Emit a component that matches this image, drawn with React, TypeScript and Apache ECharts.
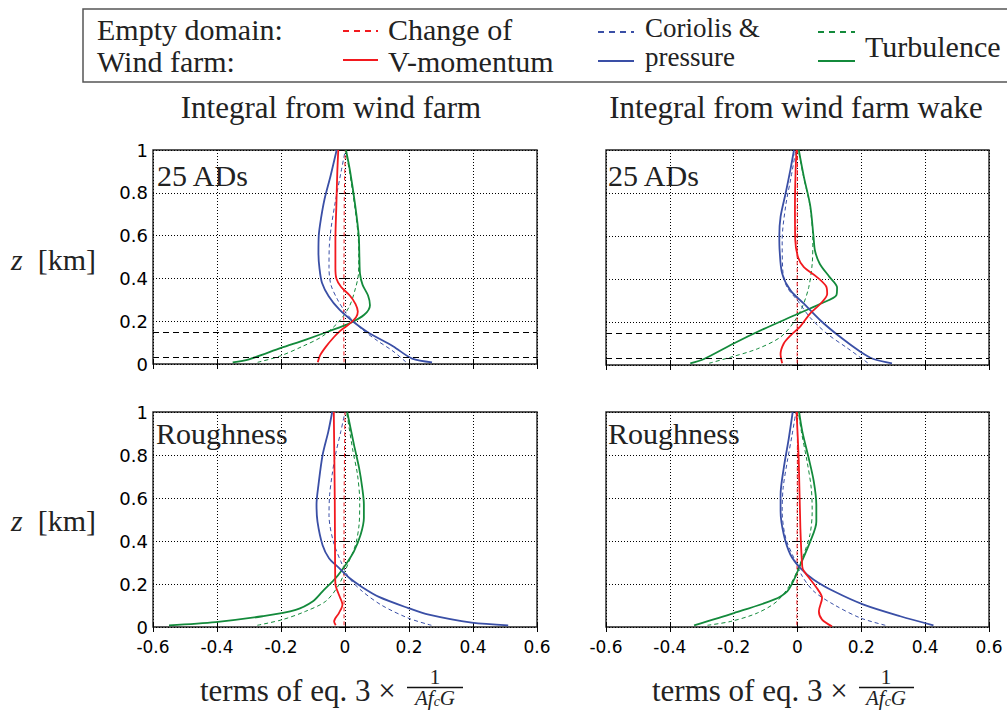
import React, { useEffect, useRef } from "react";
import * as echarts from "echarts";

// ---------- data (x = term value, z = height in km) ----------
const xTicks = { min: -0.6, max: 0.6, step: 0.2 };
const zTicks = { min: 0, max: 1, step: 0.2 };
const turbineLayer = [0.025, 0.15];

const panelTitles = ["Integral from wind farm", "Integral from wind farm wake"];
const panelCases = ["25 ADs", "25 ADs", "Roughness", "Roughness"];

// Top-left: 25 ADs, integral from wind farm
const tlRedDash = [[-0.003, 0.008], [-0.004, 0.2], [-0.003, 0.5], [-0.002, 0.8], [0.001, 1]];
const tlRedSolid = [[-0.085, 0.008], [-0.078, 0.04], [-0.06, 0.08], [-0.035, 0.125], [-0.015, 0.155], [0.012, 0.185], [0.035, 0.22], [0.04, 0.245], [0.033, 0.28], [0.015, 0.32], [-0.012, 0.36], [-0.027, 0.4], [-0.03, 0.45], [-0.03, 0.58], [-0.027, 0.74], [-0.024, 0.9], [-0.021, 1]];
const tlBlueDash = [[0.19, 0.01], [0.15, 0.06], [0.1, 0.11], [0.055, 0.16], [0.02, 0.21], [0, 0.245], [-0.023, 0.3], [-0.044, 0.37], [-0.05, 0.45], [-0.049, 0.55], [-0.044, 0.63], [-0.03, 0.76], [-0.012, 0.9], [0.001, 1]];
const tlBlueSolid = [[0.272, 0.008], [0.21, 0.025], [0.15, 0.083], [0.07, 0.15], [0.024, 0.2], [-0.018, 0.255], [-0.051, 0.317], [-0.072, 0.38], [-0.08, 0.45], [-0.083, 0.52], [-0.082, 0.6], [-0.075, 0.68], [-0.064, 0.77], [-0.045, 0.88], [-0.026, 1]];
const tlGreenDash = [[-0.273, 0.008], [-0.205, 0.036], [-0.132, 0.083], [-0.07, 0.13], [-0.018, 0.2], [0.014, 0.27], [0.032, 0.35], [0.042, 0.42], [0.043, 0.5], [0.041, 0.6], [0.03, 0.74], [0.014, 0.9], [0.002, 1]];
const tlGreenSolid = [[-0.351, 0.008], [-0.3, 0.022], [-0.2, 0.075], [-0.122, 0.114], [-0.05, 0.153], [0.014, 0.19], [0.06, 0.23], [0.078, 0.275], [0.072, 0.32], [0.055, 0.37], [0.047, 0.42], [0.045, 0.5], [0.043, 0.6], [0.032, 0.74], [0.016, 0.9], [0.003, 1]];

// Top-right: 25 ADs, integral from wind farm wake
const trRedDash = [[-0.001, 0.008], [-0.001, 0.5], [0, 1]];
const trRedSolid = [[-0.048, 0.008], [-0.053, 0.05], [-0.043, 0.1], [-0.022, 0.137], [0.009, 0.18], [0.04, 0.24], [0.072, 0.285], [0.093, 0.33], [0.09, 0.365], [0.06, 0.41], [0.02, 0.455], [0.002, 0.5], [-0.007, 0.58], [-0.008, 0.74], [-0.006, 0.9], [-0.003, 1]];
const trBlueDash = [[0.22, 0.01], [0.155, 0.08], [0.093, 0.145], [0.04, 0.22], [0, 0.3], [-0.032, 0.36], [-0.045, 0.42], [-0.048, 0.58], [-0.037, 0.74], [-0.02, 0.875], [-0.005, 1]];
const trBlueSolid = [[0.296, 0.008], [0.238, 0.028], [0.197, 0.062], [0.134, 0.13], [0.072, 0.207], [0.02, 0.285], [-0.022, 0.347], [-0.048, 0.425], [-0.056, 0.533], [-0.057, 0.6], [-0.053, 0.69], [-0.037, 0.8], [-0.022, 0.91], [-0.011, 1]];
const trGreenDash = [[-0.277, 0.008], [-0.21, 0.036], [-0.126, 0.075], [-0.053, 0.13], [-0.011, 0.2], [0.015, 0.27], [0.035, 0.36], [0.046, 0.47], [0.048, 0.58], [0.039, 0.74], [0.019, 0.875], [0.003, 1]];
const trGreenSolid = [[-0.336, 0.008], [-0.293, 0.028], [-0.2, 0.1], [-0.105, 0.168], [-0.011, 0.23], [0.072, 0.285], [0.122, 0.325], [0.124, 0.36], [0.1, 0.41], [0.07, 0.47], [0.055, 0.53], [0.05, 0.6], [0.04, 0.74], [0.02, 0.875], [0.004, 1]];

// Bottom-left: Roughness, integral from wind farm
const blRedDash = [[-0.003, 0.008], [-0.003, 0.5], [0, 1]];
const blRedSolid = [[-0.029, 0.008], [-0.034, 0.026], [-0.019, 0.065], [-0.008, 0.104], [-0.019, 0.15], [-0.03, 0.2], [-0.031, 0.3], [-0.032, 0.6], [-0.035, 1]];
const blBlueDash = [[0.27, 0.008], [0.2, 0.04], [0.116, 0.1], [0.054, 0.166], [0.012, 0.23], [-0.013, 0.305], [-0.037, 0.4], [-0.05, 0.52], [-0.048, 0.615], [-0.04, 0.71], [-0.03, 0.8], [-0.013, 0.91], [0, 1]];
const blBlueSolid = [[0.51, 0.008], [0.396, 0.02], [0.262, 0.057], [0.198, 0.088], [0.106, 0.14], [0.054, 0.185], [0.012, 0.23], [-0.019, 0.275], [-0.05, 0.32], [-0.07, 0.38], [-0.086, 0.49], [-0.089, 0.57], [-0.083, 0.66], [-0.07, 0.8], [-0.052, 0.91], [-0.04, 1]];
const blGreenDash = [[-0.274, 0.008], [-0.196, 0.034], [-0.123, 0.073], [-0.06, 0.12], [-0.019, 0.197], [0.0125, 0.305], [0.033, 0.383], [0.044, 0.476], [0.046, 0.583], [0.039, 0.709], [0.025, 0.817], [0.005, 1]];
const blGreenSolid = [[-0.55, 0.008], [-0.404, 0.023], [-0.258, 0.05], [-0.154, 0.08], [-0.1, 0.12], [-0.07, 0.166], [-0.029, 0.228], [0.002, 0.29], [0.028, 0.352], [0.049, 0.43], [0.059, 0.507], [0.059, 0.57], [0.054, 0.646], [0.044, 0.74], [0.028, 0.848], [0.007, 1]];

// Bottom-right: Roughness, integral from wind farm wake
const brRedDash = [[-0.002, 0.008], [-0.001, 0.5], [0, 1]];
const brRedSolid = [[0.108, 0.003], [0.077, 0.034], [0.067, 0.073], [0.077, 0.135], [0.061, 0.18], [0.02, 0.26], [0.015, 0.28], [0.009, 0.46], [0.004, 0.77], [-0.003, 1]];
const brBlueDash = [[0.275, 0.008], [0.197, 0.042], [0.114, 0.104], [0.051, 0.166], [0.015, 0.236], [-0.011, 0.32], [-0.037, 0.414], [-0.048, 0.538], [-0.045, 0.647], [-0.032, 0.77], [-0.017, 0.893], [-0.005, 1]];
const brBlueSolid = [[0.426, 0.008], [0.322, 0.05], [0.207, 0.104], [0.114, 0.166], [0.051, 0.22], [0.009, 0.274], [-0.022, 0.336], [-0.043, 0.43], [-0.053, 0.538], [-0.053, 0.615], [-0.043, 0.74], [-0.027, 0.88], [-0.015, 1]];
const brGreenDash = [[-0.282, 0.008], [-0.209, 0.026], [-0.126, 0.065], [-0.064, 0.12], [-0.017, 0.212], [0.015, 0.32], [0.039, 0.43], [0.046, 0.538], [0.043, 0.647], [0.03, 0.77], [0.012, 0.91], [0.003, 1]];
const brGreenSolid = [[-0.324, 0.008], [-0.199, 0.065], [-0.074, 0.127], [-0.032, 0.166], [-0.011, 0.22], [0.009, 0.29], [0.04, 0.398], [0.059, 0.49], [0.059, 0.569], [0.051, 0.677], [0.035, 0.786], [0.015, 0.91], [0.005, 1]];

const panels = [
  { red: [tlRedDash, tlRedSolid], blue: [tlBlueDash, tlBlueSolid], green: [tlGreenDash, tlGreenSolid] },
  { red: [trRedDash, trRedSolid], blue: [trBlueDash, trBlueSolid], green: [trGreenDash, trGreenSolid] },
  { red: [blRedDash, blRedSolid], blue: [blBlueDash, blBlueSolid], green: [blGreenDash, blGreenSolid] },
  { red: [brRedDash, brRedSolid], blue: [brBlueDash, brBlueSolid], green: [brGreenDash, brGreenSolid] },
];

// ---------- styles / layout ----------
const COLORS = { red: "#f2191e", blue: "#3a4fa6", green: "#138a3b" };
const SERIF = "'Liberation Serif', 'Times New Roman', serif";
const SANS = "'DejaVu Sans', sans-serif";
const TXT = "#222";

const gridRects = [
  { left: 153, top: 150, width: 384, height: 214 },
  { left: 606, top: 150, width: 383, height: 215 },
  { left: 153, top: 412, width: 384, height: 215 },
  { left: 606, top: 412, width: 383, height: 215 },
];

function buildOption() {
  const grid = gridRects.map((g) => ({
    ...g,
    show: true,
    borderColor: "#222",
    borderWidth: 1.4,
    backgroundColor: "transparent",
    containLabel: false,
  }));

  const tick = { show: true, inside: true, length: 5, lineStyle: { color: "#000", width: 1 } };
  const xAxis: any[] = [];
  const yAxis: any[] = [];
  gridRects.forEach((_, i) => {
    const bottomRow = i >= 2;
    const leftCol = i % 2 === 0;
    xAxis.push({
      gridIndex: i,
      type: "value",
      position: "bottom",
      min: xTicks.min,
      max: xTicks.max,
      interval: xTicks.step,
      axisLine: { show: false },
      axisTick: tick,
      splitLine: { show: true, lineStyle: { color: "#000", width: 1, type: [1, 2] } },
      axisLabel: { show: bottomRow, fontFamily: SANS, fontSize: 17, color: "#000", margin: 11 },
    });
    xAxis.push({
      gridIndex: i,
      type: "value",
      position: "top",
      min: xTicks.min,
      max: xTicks.max,
      interval: xTicks.step,
      axisLine: { show: false },
      axisTick: tick,
      splitLine: { show: false },
      axisLabel: { show: false },
    });
    yAxis.push({
      gridIndex: i,
      type: "value",
      position: "left",
      min: zTicks.min,
      max: zTicks.max,
      interval: zTicks.step,
      axisLine: { show: false },
      axisTick: tick,
      splitLine: { show: true, lineStyle: { color: "#000", width: 1, type: [1, 2] } },
      axisLabel: { show: leftCol, fontFamily: SANS, fontSize: 18, color: "#000", margin: 5 },
    });
    yAxis.push({
      gridIndex: i,
      type: "value",
      position: "right",
      min: zTicks.min,
      max: zTicks.max,
      interval: zTicks.step,
      axisLine: { show: false },
      axisTick: tick,
      splitLine: { show: false },
      axisLabel: { show: false },
    });
  });

  const series: any[] = [];
  panels.forEach((p, i) => {
    const top = i < 2;
    series.push({
      type: "line",
      xAxisIndex: 2 * i,
      yAxisIndex: 2 * i,
      data: [],
      silent: true,
      markLine: top
        ? {
            silent: true,
            symbol: ["none", "none"],
            label: { show: false },
            lineStyle: { color: "#000", width: 1, type: [6, 4] },
            data: turbineLayer.map((z) => ({ yAxis: z })),
          }
        : undefined,
    });
    (["green", "blue", "red"] as const).forEach((k) => {
      const [dash] = (p as any)[k];
      series.push({
        type: "line",
        xAxisIndex: 2 * i,
        yAxisIndex: 2 * i,
        data: dash,
        symbol: "none",
        smooth: 0.3,
        silent: true,
        lineStyle: { color: COLORS[k], width: 1, type: [4, 3] },
      });
    });
    (["green", "blue", "red"] as const).forEach((k) => {
      const [, solid] = (p as any)[k];
      series.push({
        type: "line",
        xAxisIndex: 2 * i,
        yAxisIndex: 2 * i,
        data: solid,
        symbol: "none",
        smooth: 0.3,
        silent: true,
        lineStyle: { color: COLORS[k], width: 1.8, type: "solid" },
      });
    });
  });

  const text = (x: number, y: number, t: string, extra: any = {}) => ({
    type: "text",
    x,
    y,
    silent: true,
    style: {
      text: t,
      fontFamily: SERIF,
      fontSize: 30,
      fill: TXT,
      align: "left",
      verticalAlign: "middle",
      ...extra,
    },
  });
  const seg = (x1: number, y: number, x2: number, color: string, dashed: boolean) => ({
    type: "line",
    silent: true,
    shape: { x1, y1: y, x2, y2: y },
    style: { stroke: color, lineWidth: 2, lineDash: dashed ? [6, 5] : null },
  });

  const graphic: any[] = [
    // legend box
    {
      type: "rect",
      silent: true,
      shape: { x: 83, y: 9, width: 1000, height: 73 },
      style: { fill: "none", stroke: "#555", lineWidth: 1.5 },
    },
    text(97, 29, "Empty domain:"),
    text(97, 61, "Wind farm:"),
    seg(343, 31, 378, COLORS.red, true),
    seg(343, 60, 378, COLORS.red, false),
    text(388, 29, "Change of"),
    text(388, 61, "V-momentum"),
    seg(598, 32, 634, COLORS.blue, true),
    seg(598, 61, 634, COLORS.blue, false),
    text(645, 28, "Coriolis &", { fontSize: 27 }),
    text(645, 57, "pressure", { fontSize: 27 }),
    seg(818, 32, 855, COLORS.green, true),
    seg(818, 61, 855, COLORS.green, false),
    text(865, 46, "Turbulence"),
    // column titles
    text(331, 107, panelTitles[0], { align: "center", fontSize: 31 }),
    text(796, 107, panelTitles[1], { align: "center", fontSize: 31 }),
    // panel case labels
    text(157, 175, panelCases[0]),
    text(608, 175, panelCases[1]),
    text(156, 433, panelCases[2]),
    text(608, 433, panelCases[3]),
    // y axis titles
    text(11, 259, "{i|z}  [km]", { rich: { i: { fontStyle: "italic", fontFamily: SERIF, fontSize: 30, fill: TXT } } }),
    text(11, 520, "{i|z}  [km]", { rich: { i: { fontStyle: "italic", fontFamily: SERIF, fontSize: 30, fill: TXT } } }),
  ];

  // x axis titles with fraction
  [
    { left: 200, cx: 435, x1: 407, x2: 463 },
    { left: 652, cx: 886, x1: 859, x2: 914 },
  ].forEach((o) => {
    graphic.push(text(o.left, 690, "terms of eq. 3 ×", { fontSize: 31 }));
    graphic.push(text(o.cx, 677, "1", { align: "center", fontSize: 21 }));
    graphic.push({
      type: "line",
      silent: true,
      z: 10,
      shape: { x1: o.x1, y1: 687.5, x2: o.x2, y2: 687.5 },
      style: { stroke: "#111", lineWidth: 1.5 },
    });
    graphic.push(
      text(o.cx, 698, "{i|Af}{s|c}{i|G}", {
        align: "center",
        fontSize: 21,
        rich: {
          i: { fontStyle: "italic", fontFamily: SERIF, fontSize: 21, fill: TXT, lineHeight: 20 },
          s: { fontStyle: "italic", fontFamily: SERIF, fontSize: 14, fill: TXT, lineHeight: 20, verticalAlign: "bottom" },
        },
      })
    );
  });

  return {
    animation: false,
    backgroundColor: "#fff",
    grid,
    xAxis,
    yAxis,
    series,
    graphic,
  };
}

export default function App() {
  const ref = useRef<HTMLDivElement>(null);
  useEffect(() => {
    if (!ref.current) return;
    const chart = echarts.init(ref.current, null, { renderer: "svg" });
    chart.setOption(buildOption() as any);
    return () => chart.dispose();
  }, []);
  return (
    <div
      ref={ref}
      style={{ position: "absolute", left: 0, top: 0, width: 1007, height: 711, background: "#fff" }}
    />
  );
}
